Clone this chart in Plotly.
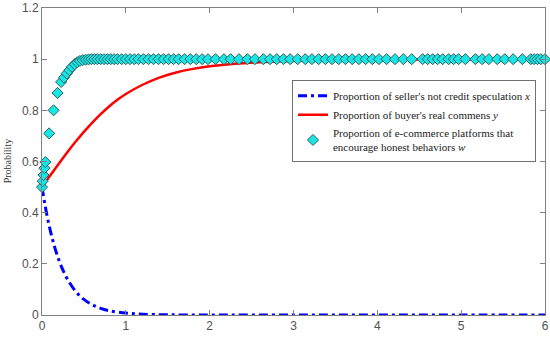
import plotly.graph_objects as go

# Seller: proportion not engaging in credit speculation (x)
t_x = [0, 0.05, 0.1, 0.15, 0.2, 0.25, 0.3, 0.4, 0.5, 0.6, 0.7, 0.8, 1.0, 1.2, 1.5, 2.0, 3.0, 4.0, 5.0, 6.0]
x_vals = [0.5, 0.405, 0.329, 0.266, 0.216, 0.175, 0.142, 0.093, 0.061, 0.040, 0.026, 0.017,
          0.0075, 0.0032, 0.0009, 0.0001, 0, 0, 0, 0]

# Buyer: proportion of real comments (y)
t_y = [0, 0.1, 0.2, 0.3, 0.4, 0.5, 0.6, 0.7, 0.8, 0.9, 1.0, 1.2, 1.4, 1.6, 1.8, 2.0,
       2.3, 2.6, 3.0, 3.5, 4.0, 5.0, 6.0]
y_vals = [0.5, 0.546, 0.591, 0.635, 0.677, 0.716, 0.752, 0.785, 0.815, 0.841, 0.864, 0.900,
          0.928, 0.948, 0.962, 0.972, 0.982, 0.988, 0.993, 0.996, 0.998, 0.999, 1.0]

# E-commerce platform: encourage honest behaviour (w)
t_w = [0, 0.008, 0.018, 0.028, 0.04, 0.085, 0.138, 0.185, 0.228, 0.262, 0.295, 0.326,
       0.358, 0.39, 0.42, 0.452, 0.485, 0.52, 0.555, 0.59, 0.625, 0.66, 0.70, 0.74, 0.78,
       0.82, 0.86, 0.90, 0.95, 1.0, 1.05, 1.10, 1.15, 1.21, 1.27, 1.33, 1.39, 1.45, 1.51,
       1.57, 1.63, 1.70, 1.77, 1.84, 1.91, 1.98, 2.07, 2.17, 2.25, 2.35, 2.45, 2.54, 2.64,
       2.72, 2.80, 2.88, 2.96, 3.05, 3.14, 3.22, 3.30, 3.38, 3.46, 3.54, 3.62, 3.70, 3.78,
       3.86, 3.94, 4.02, 4.11, 4.21, 4.31, 4.41, 4.54, 4.60, 4.66, 4.72, 4.78, 4.85, 4.91,
       4.97, 5.05, 5.17, 5.25, 5.33, 5.43, 5.52, 5.62, 5.73, 5.83, 5.87, 5.91, 5.95, 6.0]
w_vals = [0.50, 0.523, 0.547, 0.574, 0.598, 0.71, 0.80, 0.868, 0.911, 0.928, 0.944, 0.957,
          0.970, 0.980, 0.988, 0.993, 0.996, 0.998, 0.999] + [1.0] * 76

x_ticks = [0, 1, 2, 3, 4, 5, 6]
y_ticks = [0, 0.2, 0.4, 0.6, 0.8, 1.0, 1.2]
y_tick_text = ["0", "0.2", "0.4", "0.6", "0.8", "1", "1.2"]

fig = go.Figure()
fig.add_trace(go.Scatter(
    x=t_x, y=x_vals, mode="lines", line_shape="spline",
    name="Proportion of seller's not credit speculation <i>x</i>",
    line=dict(color="#0000ff", width=3, dash="9px,4px,3px,4px"),
))
fig.add_trace(go.Scatter(
    x=t_y, y=y_vals, mode="lines", line_shape="spline",
    name="Proportion of buyer's real commens <i>y</i>",
    line=dict(color="#ff0000", width=2.5),
))
fig.add_trace(go.Scatter(
    x=t_w, y=w_vals, mode="markers", cliponaxis=False,
    name="Proportion of e-commerce platforms that<br>encourage honest behaviors <i>w</i>",
    marker=dict(symbol="diamond", size=8.5, color="#18e6e6",
                line=dict(color="#2f5f5f", width=1)),
))

axis_common = dict(
    showline=True, linecolor="#808080", linewidth=1, mirror="ticks",
    ticks="inside", ticklen=5, tickcolor="#808080", showgrid=False, zeroline=False,
    automargin=False,
    tickfont=dict(family="Liberation Sans, Arial", size=12, color="#505050"),
)
fig.update_xaxes(range=[0, 6], tickvals=x_ticks, **axis_common)
fig.update_yaxes(range=[0, 1.2], tickvals=y_ticks, ticktext=y_tick_text, **axis_common)

fig.add_annotation(
    text="Probability", textangle=-90, xref="paper", yref="paper",
    x=-0.068, y=0.5, xanchor="center", yanchor="middle", showarrow=False,
    font=dict(family="Liberation Serif, Times New Roman", size=10, color="#333"),
)

fig.update_layout(
    width=550, height=339,
    margin=dict(l=42, r=5, t=8, b=24),
    paper_bgcolor="white", plot_bgcolor="white",
    showlegend=True,
    legend=dict(
        x=0.497, y=0.765, xanchor="left", yanchor="top",
        bgcolor="white", bordercolor="#707070", borderwidth=1,
        font=dict(family="Liberation Serif, Times New Roman", size=11, color="#222"),
        tracegroupgap=0, itemwidth=30,
    ),
)

fig.write_html("out.html", config={"displayModeBar": False},
               post_script="document.body.style.margin='0';document.body.style.overflow='hidden';")
